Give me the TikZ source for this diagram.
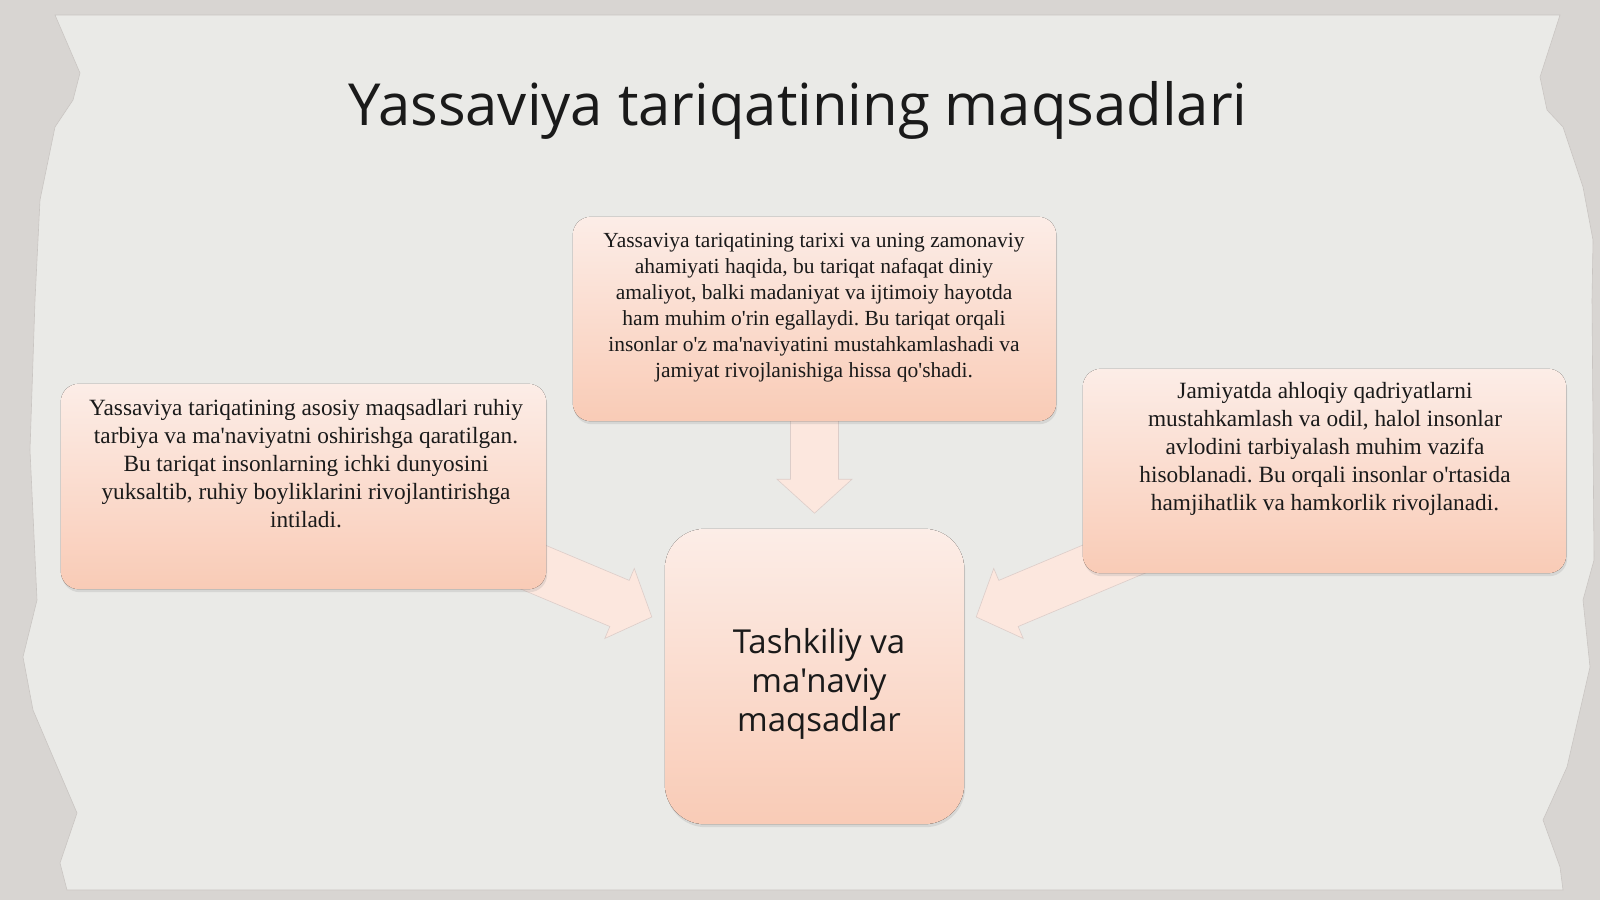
\documentclass[tikz,border=0pt]{standalone}
\usepackage{fontspec}
\setmainfont{Liberation Serif}[Ligatures=TeXOff]
\newfontfamily\titlefont{Open Sans}[Ligatures=TeXOff]
\usetikzlibrary{shadows,calc}
\definecolor{bgout}{HTML}{D8D5D2}
\definecolor{paper}{HTML}{EAEAE7}
\definecolor{paperedge}{HTML}{C9C5C2}
\definecolor{boxtop}{HTML}{FCEDE7}
\definecolor{boxbot}{HTML}{F9CBB6}
\definecolor{arrfill}{HTML}{FCE7DE}
\definecolor{arredge}{HTML}{DCCDC9}
\definecolor{ink}{HTML}{1A1A1A}
\frenchspacing
\begin{document}
\frenchspacing
\begin{tikzpicture}[x=1pt,y=-1pt,
  card/.style={rounded corners=18pt, top color=boxtop, bottom color=boxbot, draw=none,
    drop shadow={opacity=0.18, shadow xshift=1pt, shadow yshift=-3pt}},
  bodytext/.style={align=center, inner sep=0pt, anchor=north, text=ink},
  smalltext/.style={bodytext, font=\fontsize{21.5}{26}\selectfont\frenchspacing},
  largetext/.style={bodytext, font=\fontsize{23.3}{28}\selectfont\frenchspacing},
  blockarr/.style={fill=arrfill, draw=arredge, line width=0.6pt, line join=miter},
]
\useasboundingbox (0,0) rectangle (1600,900);
% background and torn paper
\fill[bgout] (0,0) rectangle (1600,900);
\filldraw[fill=paper, draw=paperedge, line width=0.6pt]
  (55,15) -- (1560,15) -- (1540,77) -- (1547,110) -- (1563,127) -- (1583,187)
  -- (1593,240) -- (1592,300) -- (1594,560) -- (1583,600) -- (1590,667)
  -- (1567,767) -- (1543,820) -- (1560,867) -- (1563,890) -- (67,890)
  -- (60,863) -- (77,813) -- (50,750) -- (33,710) -- (23,657) -- (37,600)
  -- (30,450) -- (35,300) -- (40,200) -- (55,127) -- (73,100) -- (80,73) -- cycle;

% title
\node[anchor=base, inner sep=0pt, text=ink, font=\titlefont\fontsize{58}{70}\selectfont]
  (title) at (798,125) {Yassaviya tariqatining maqsadlari};

% node positions (boxes drawn after arrows)
\path (814.5,676.5) node[minimum width=299, minimum height=295, inner sep=0pt] (mid) {};
\path (814.5,319) node[minimum width=483, minimum height=204, inner sep=0pt] (top) {};
\path (303.5,486.5) node[minimum width=485, minimum height=205, inner sep=0pt] (left) {};
\path (1324.5,471) node[minimum width=483, minimum height=204, inner sep=0pt] (right) {};

\coordinate (tipD) at ($(top.south)+(0,92)$);
\coordinate (tipL) at ($(mid.west)+(-13,-59.5)$);
\coordinate (tipR) at ($(mid.east)+(12,-59.5)$);

% block arrows
\begin{scope}[shift={(tipD)}, rotate=-90]
  \draw[blockarr] (0,0) -- (-34,37.5) -- (-34,24) -- (-110,24) -- (-110,-24) -- (-34,-24) -- (-34,-37.5) -- cycle;
\end{scope}
\begin{scope}[shift={(tipL)}, rotate=-22.8]
  \draw[blockarr] (0,0) -- (-35,38) -- (-35,25) -- (-180,25) -- (-180,-25) -- (-35,-25) -- (-35,-38) -- cycle;
\end{scope}
\begin{scope}[shift={(tipR)}, rotate=-157.2]
  \draw[blockarr] (0,0) -- (-35,38) -- (-35,25) -- (-180,25) -- (-180,-25) -- (-35,-25) -- (-35,-38) -- cycle;
\end{scope}

% cards
\fill[card] (top.north west) rectangle (top.south east);
\fill[card] (left.north west) rectangle (left.south east);
\fill[card] (right.north west) rectangle (right.south east);
\fill[card, rounded corners=40pt] (mid.north west) rectangle (mid.south east);

% texts
\node[smalltext] (toptext) at (814,233) {Yassaviya tariqatining tarixi va uning zamonaviy\\
ahamiyati haqida, bu tariqat nafaqat diniy\\
amaliyot, balki madaniyat va ijtimoiy hayotda\\
ham muhim o'rin egallaydi. Bu tariqat orqali\\
insonlar o'z ma'naviyatini mustahkamlashadi va\\
jamiyat rivojlanishiga hissa qo'shadi.};

\node[largetext] (lefttext) at (306,399) {Yassaviya tariqatining asosiy maqsadlari ruhiy\\
tarbiya va ma'naviyatni oshirishga qaratilgan.\\
Bu tariqat insonlarning ichki dunyosini\\
yuksaltib, ruhiy boyliklarini rivojlantirishga\\
intiladi.};

\node[largetext] (righttext) at (1325,382) {Jamiyatda ahloqiy qadriyatlarni\\
mustahkamlash va odil, halol insonlar\\
avlodini tarbiyalash muhim vazifa\\
hisoblanadi. Bu orqali insonlar o'rtasida\\
hamjihatlik va hamkorlik rivojlanadi.};

\node[align=center, inner sep=0pt, text=ink, font=\titlefont\fontsize{33}{39}\selectfont]
  (midtext) at (819,684) {Tashkiliy va\\ ma'naviy\\ maqsadlar};
\end{tikzpicture}
\end{document}
